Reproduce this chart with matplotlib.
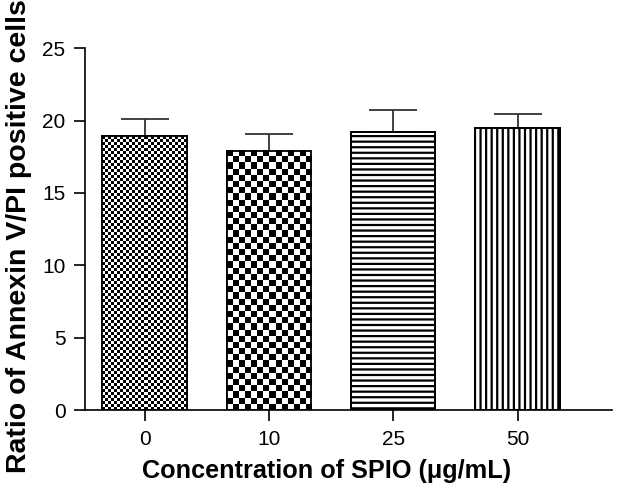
import numpy as np
import matplotlib
matplotlib.use("Agg")
import matplotlib.pyplot as plt

# values
concentrations = ["0", "10", "25", "50"]
ratio_mean = [18.9, 17.9, 19.2, 19.5]
ratio_err = [1.2, 1.15, 1.5, 0.95]

plt.rcParams['font.family'] = ['Liberation Sans', 'DejaVu Sans']
plt.rcParams['hatch.linewidth'] = 1.6

fig = plt.figure(figsize=(6.29, 4.96), dpi=100)
ax = fig.add_axes([0.135, 0.173, 0.838, 0.73])

x = np.arange(len(concentrations))
bars = ax.bar(x, ratio_mean, width=0.68, color='white', edgecolor='black',
              linewidth=1.3, zorder=2)
bars[2].set_hatch('---')
bars[3].set_hatch('|||')

# upper error bars only
ax.errorbar(x, ratio_mean, yerr=[np.zeros(len(x)), ratio_err], fmt='none',
            ecolor='#333333', elinewidth=1.3, capsize=17.5, capthick=1.3, zorder=1)

ax.set_xlim(-0.48, 3.76)
ax.set_ylim(0, 25)


def checker(bar, cell_px):
    # checkerboard fill clipped to the bar
    x0, y0 = bar.get_x(), bar.get_y()
    w, h = bar.get_width(), bar.get_height()
    p0 = ax.transData.transform((x0, y0))
    p1 = ax.transData.transform((x0 + w, y0 + h))
    nx = max(1, int(round((p1[0] - p0[0]) / cell_px)))
    ny = max(1, int(round((p1[1] - p0[1]) / cell_px)))
    board = np.add.outer(np.arange(ny), np.arange(nx)) % 2
    ax.imshow(board, cmap='gray', extent=(x0, x0 + w, y0, y0 + h), aspect='auto',
              interpolation='nearest', clip_path=bar, zorder=2.5)


checker(bars[0], 3)
checker(bars[1], 6.2)

# outlines on top of the fills
ax.bar(x, ratio_mean, width=0.68, fill=False, edgecolor='black', linewidth=1.3, zorder=3)

ax.set_xlim(-0.48, 3.76)
ax.set_ylim(0, 25)
ax.set_aspect('auto')
ax.set_xticks(x)
ax.set_xticklabels(concentrations)
ax.set_yticks(np.arange(0, 26, 5))

for side in ['top', 'right']:
    ax.spines[side].set_visible(False)
for side in ['left', 'bottom']:
    ax.spines[side].set_linewidth(1.2)
ax.tick_params(direction='out', length=8, width=1.2, labelsize=15, pad=6)

ax.set_xlabel("Concentration of SPIO (\u03bcg/mL)", fontsize=18.2, fontweight='bold')
ax.set_ylabel("Ratio of Annexin V/PI positive cells", fontsize=20.5, fontweight='bold')
ax.xaxis.set_label_coords(0.458, -0.135)
ax.yaxis.set_label_coords(-0.1, 0.48)

fig.savefig("out.png", dpi=100)
